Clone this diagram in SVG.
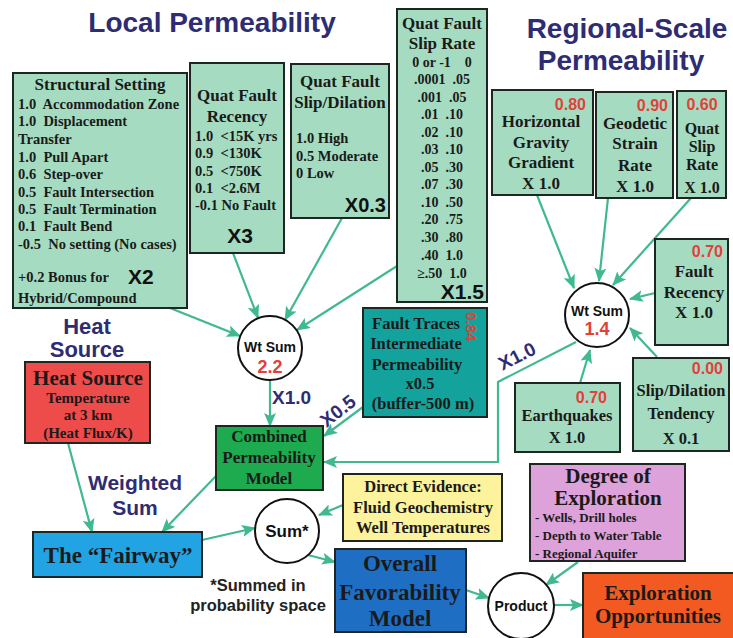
<svg xmlns="http://www.w3.org/2000/svg" width="733" height="638" viewBox="0 0 733 638">
<defs>
<marker id="ah" markerUnits="userSpaceOnUse" markerWidth="15" markerHeight="12" refX="13" refY="6" orient="auto">
<path d="M0,0 L14,6 L0,12 L3,6 z" fill="#3fb98d"/>
</marker>
<style>
.bx{stroke:#1e2622;stroke-width:2}
.lg{fill:#a5dcc1}
.t{font-family:"Liberation Serif","Times New Roman",serif;font-weight:bold;fill:#1a1a1a}
.s{font-family:"Liberation Sans",Arial,sans-serif;font-weight:bold}
.nv{fill:#2e2c73}
.rd{fill:#e2403a;font-family:"Liberation Sans",Arial,sans-serif;font-weight:bold}
.c{text-anchor:middle}
.cn{fill:none;stroke:#3fb98d;stroke-width:2.2;marker-end:url(#ah)}
.circ{fill:#fff;stroke:#111;stroke-width:2}
</style>
</defs>
<rect width="733" height="638" fill="#fff"/>

<g id="titles">
<text class="s nv c" x="212" y="32" font-size="28">Local Permeability</text>
<text class="s nv c" x="627" y="38" font-size="28">Regional-Scale</text>
<text class="s nv c" x="621" y="70" font-size="28">Permeability</text>
<text class="s nv c" x="87" y="334" font-size="22">Heat</text>
<text class="s nv c" x="87" y="357" font-size="22">Source</text>
<text class="s nv c" x="135" y="490" font-size="21">Weighted</text>
<text class="s nv c" x="135" y="515" font-size="21">Sum</text>
<text class="s c" x="258" y="591" font-size="16.5" fill="#222">*Summed in</text>
<text class="s c" x="258" y="611" font-size="16.5" fill="#222">probability space</text>
</g>

<g id="connectors">
<path class="cn" d="M170,308 L240,336"/>
<path class="cn" d="M233,253 L258,318"/>
<path class="cn" d="M342,218 L285,320"/>
<path class="cn" d="M397,266 L297,330"/>
<path class="cn" d="M270,380 L270,426"/>
<path class="cn" d="M363,407 L324,436"/>
<path class="cn" d="M576,342 L498,382 L498,462 L324,462"/>
<path class="cn" d="M68,443 L92,532"/>
<path class="cn" d="M216,476 L162,532"/>
<path class="cn" d="M202,540 L255,528"/>
<path class="cn" d="M343,505 L319,515"/>
<path class="cn" d="M308,555 L335,562"/>
<path class="cn" d="M466,590 L489,598"/>
<path class="cn" d="M578,562 L546,585"/>
<path class="cn" d="M554,605 L583,605"/>
<path class="cn" d="M537,195 L574,288"/>
<path class="cn" d="M608,198 L599,281"/>
<path class="cn" d="M691,198 L613,285"/>
<path class="cn" d="M655,293 L630,299"/>
<path class="cn" d="M657,357 L630,328"/>
<path class="cn" d="M580,383 L590,350"/>
<text class="s nv" font-size="19" x="272" y="404">X1.0</text>
<text class="s nv c" font-size="19" transform="translate(342,416) rotate(-38)">X0.5</text>
<text class="s nv c" font-size="19" transform="translate(520,362) rotate(-27)">X1.0</text>
</g>

<g id="structural">
<rect class="bx lg" x="13" y="73" width="174" height="235"/>
<text class="t c" x="100" y="90" font-size="17">Structural Setting</text>
<g class="t" font-size="14.5">
<text x="18" y="109" xml:space="preserve">1.0  Accommodation Zone</text>
<text x="18" y="126" xml:space="preserve">1.0  Displacement</text>
<text x="18" y="144">Transfer</text>
<text x="18" y="162" xml:space="preserve">1.0  Pull Apart</text>
<text x="18" y="179" xml:space="preserve">0.6  Step-over</text>
<text x="18" y="197" xml:space="preserve">0.5  Fault Intersection</text>
<text x="18" y="214" xml:space="preserve">0.5  Fault Termination</text>
<text x="18" y="231" xml:space="preserve">0.1  Fault Bend</text>
<text x="18" y="249" xml:space="preserve">-0.5  No setting (No cases)</text>
<text x="18" y="282">+0.2 Bonus for</text>
<text x="18" y="303">Hybrid/Compound</text>
</g>
<text class="s" x="128" y="284" font-size="21" fill="#111">X2</text>
</g>

<g id="recency">
<rect class="bx lg" x="190" y="63" width="94" height="190"/>
<text class="t c" x="237" y="101" font-size="17">Quat Fault</text>
<text class="t c" x="237" y="122" font-size="17">Recency</text>
<g class="t" font-size="14.5">
<text x="195" y="141" xml:space="preserve">1.0  &lt;15K yrs</text>
<text x="195" y="158" xml:space="preserve">0.9  &lt;130K</text>
<text x="195" y="176" xml:space="preserve">0.5  &lt;750K</text>
<text x="195" y="193" xml:space="preserve">0.1  &lt;2.6M</text>
<text x="195" y="210">-0.1 No Fault</text>
</g>
<text class="s c" x="240" y="243" font-size="21" fill="#111">X3</text>
</g>

<g id="slipdilation">
<rect class="bx lg" x="291" y="64" width="98" height="154"/>
<text class="t c" x="340" y="87" font-size="17">Quat Fault</text>
<text class="t c" x="340" y="108" font-size="17">Slip/Dilation</text>
<g class="t" font-size="14.5">
<text x="296" y="143">1.0 High</text>
<text x="296" y="161">0.5 Moderate</text>
<text x="296" y="178">0 Low</text>
</g>
<text class="s" x="386" y="212" font-size="20" fill="#111" text-anchor="end">X0.3</text>
</g>

<g id="sliprate">
<rect class="bx lg" x="397" y="9" width="90" height="293"/>
<text class="t c" x="442" y="29" font-size="17">Quat Fault</text>
<text class="t c" x="442" y="49" font-size="17">Slip Rate</text>
<g class="t c" font-size="14">
<text x="442" y="67" xml:space="preserve">0 or -1    0</text>
<text x="442" y="84" xml:space="preserve">.0001  .05</text>
<text x="442" y="102" xml:space="preserve">.001  .05</text>
<text x="442" y="119" xml:space="preserve">.01  .10</text>
<text x="442" y="137" xml:space="preserve">.02  .10</text>
<text x="442" y="154" xml:space="preserve">.03  .10</text>
<text x="442" y="172" xml:space="preserve">.05  .30</text>
<text x="442" y="189" xml:space="preserve">.07  .30</text>
<text x="442" y="207" xml:space="preserve">.10  .50</text>
<text x="442" y="224" xml:space="preserve">.20  .75</text>
<text x="442" y="242" xml:space="preserve">.30  .80</text>
<text x="442" y="260" xml:space="preserve">.40  1.0</text>
<text x="442" y="278" xml:space="preserve">≥.50  1.0</text>
</g>
<text class="s" x="484" y="299" font-size="21" fill="#111" text-anchor="end">X1.5</text>
</g>

<g id="hgg">
<rect class="bx lg" x="492" y="90" width="101" height="105"/>
<text class="rd" x="586" y="110" font-size="16" text-anchor="end">0.80</text>
<text class="t c" x="541" y="127" font-size="17">Horizontal</text>
<text class="t c" x="541" y="148" font-size="17">Gravity</text>
<text class="t c" x="541" y="168" font-size="17">Gradient</text>
<text class="t c" x="541" y="189" font-size="17">X 1.0</text>
</g>

<g id="geodetic">
<rect class="bx lg" x="596" y="92" width="77" height="106"/>
<text class="rd" x="668" y="111" font-size="16" text-anchor="end">0.90</text>
<text class="t c" x="635" y="129" font-size="17">Geodetic</text>
<text class="t c" x="635" y="149" font-size="17">Strain</text>
<text class="t c" x="635" y="171" font-size="17">Rate</text>
<text class="t c" x="635" y="192" font-size="17">X 1.0</text>
</g>

<g id="quatslip">
<rect class="bx lg" x="677" y="91" width="49" height="107"/>
<text class="rd c" x="702" y="110" font-size="16">0.60</text>
<text class="t c" x="702" y="134" font-size="16">Quat</text>
<text class="t c" x="702" y="152" font-size="16">Slip</text>
<text class="t c" x="702" y="170" font-size="16">Rate</text>
<text class="t c" x="702" y="193" font-size="16">X 1.0</text>
</g>

<g id="wtsum-regional">
<circle class="circ" cx="597" cy="315" r="32"/>
<text class="s c" x="597" y="316" font-size="14" fill="#111">Wt Sum</text>
<text class="rd c" x="597" y="335" font-size="18">1.4</text>
</g>

<g id="faultrecency">
<rect class="bx lg" x="655" y="239" width="73" height="106"/>
<text class="rd" x="723" y="257" font-size="16" text-anchor="end">0.70</text>
<text class="t c" x="694" y="277" font-size="17">Fault</text>
<text class="t c" x="694" y="298" font-size="17">Recency</text>
<text class="t c" x="694" y="318" font-size="17">X 1.0</text>
</g>

<g id="sliptendency">
<rect class="bx lg" x="633" y="358" width="96" height="93"/>
<text class="rd" x="723" y="374" font-size="16" text-anchor="end">0.00</text>
<text class="t c" x="681" y="396" font-size="16.5">Slip/Dilation</text>
<text class="t c" x="681" y="419" font-size="16.5">Tendency</text>
<text class="t c" x="681" y="444" font-size="16.5">X 0.1</text>
</g>

<g id="earthquakes">
<rect class="bx lg" x="515" y="383" width="105" height="69"/>
<text class="rd" x="607" y="403" font-size="16" text-anchor="end">0.70</text>
<text class="t c" x="567" y="421" font-size="16.5">Earthquakes</text>
<text class="t c" x="567" y="443" font-size="16.5">X 1.0</text>
</g>

<g id="wtsum-local">
<circle class="circ" cx="270" cy="348" r="32"/>
<text class="s c" x="270" y="352" font-size="14" fill="#111">Wt Sum</text>
<text class="rd c" x="270" y="373" font-size="18">2.2</text>
</g>

<g id="faulttraces">
<rect class="bx" x="363" y="308" width="124" height="109" fill="#14a29d"/>
<text class="t c" x="416" y="329" font-size="16.5">Fault Traces</text>
<text class="t c" x="416" y="349" font-size="16.5">Intermediate</text>
<text class="t c" x="417" y="370" font-size="16.5">Permeability</text>
<text class="t c" x="420" y="389" font-size="16.5">x0.5</text>
<text class="t c" x="423" y="409" font-size="16.5">(buffer-500 m)</text>
<text class="rd" font-size="15" transform="translate(466,312) rotate(90)">0.84</text>
</g>

<g id="combined">
<rect class="bx" x="216" y="426" width="107" height="64" fill="#1eaa4e"/>
<text class="t c" x="269" y="442" font-size="17">Combined</text>
<text class="t c" x="269" y="463" font-size="17">Permeability</text>
<text class="t c" x="269" y="484" font-size="17">Model</text>
</g>

<g id="heatsource">
<rect class="bx" x="25" y="362" width="125" height="81" fill="#ee4b4b"/>
<text class="t c" x="88" y="385" font-size="21">Heat Source</text>
<text class="t c" x="88" y="403" font-size="15">Temperature</text>
<text class="t c" x="88" y="420" font-size="15">at 3 km</text>
<text class="t c" x="88" y="438" font-size="15">(Heat Flux/K)</text>
</g>

<g id="fairway">
<rect class="bx" x="33" y="532" width="169" height="45" fill="#22a4e4"/>
<text class="t c" x="118" y="563" font-size="23">The “Fairway”</text>
</g>

<g id="sum">
<circle class="circ" cx="287" cy="531" r="32"/>
<text class="s c" x="287" y="537" font-size="17" fill="#111">Sum*</text>
</g>

<g id="direct">
<rect class="bx" x="343" y="474" width="159" height="67" fill="#fcf39c"/>
<text class="t c" x="423" y="492" font-size="16.5">Direct Evidence:</text>
<text class="t c" x="423" y="513" font-size="16.5">Fluid Geochemistry</text>
<text class="t c" x="423" y="533" font-size="16.5">Well Temperatures</text>
</g>

<g id="overall">
<rect class="bx" x="335" y="549" width="131" height="83" fill="#1e6fc3"/>
<text class="t c" x="400" y="571" font-size="23">Overall</text>
<text class="t c" x="400" y="600" font-size="23">Favorability</text>
<text class="t c" x="400" y="626" font-size="23">Model</text>
</g>

<g id="degree">
<rect class="bx" x="530" y="464" width="155" height="97" fill="#dda2d9"/>
<text class="t c" x="608" y="483" font-size="21">Degree of</text>
<text class="t c" x="608" y="505" font-size="21">Exploration</text>
<text class="t" x="535" y="522" font-size="13">- Wells, Drill holes</text>
<text class="t" x="535" y="540" font-size="13">- Depth to Water Table</text>
<text class="t" x="535" y="558" font-size="13">- Regional Aquifer</text>
</g>

<g id="product">
<circle class="circ" cx="521" cy="606" r="33"/>
<text class="s c" x="521" y="611" font-size="14" fill="#111">Product</text>
</g>

<g id="opportunities">
<rect class="bx" x="583" y="573" width="152" height="72" fill="#f25a22"/>
<text class="t c" x="658" y="600" font-size="21">Exploration</text>
<text class="t c" x="658" y="623" font-size="21">Opportunities</text>
</g>
</svg>
